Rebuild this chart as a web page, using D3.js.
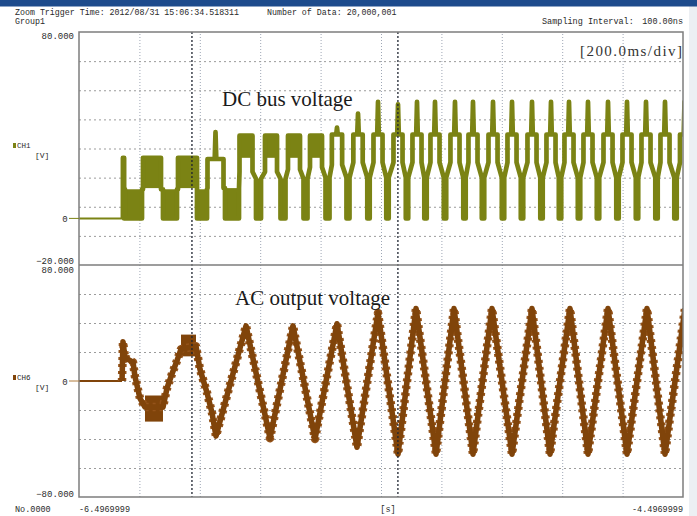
<!DOCTYPE html>
<html>
<head>
<meta charset="utf-8">
<script src="https://cdn.jsdelivr.net/npm/d3@7"></script>
<style>
  body { margin: 0; background: #fff; }
  svg { display: block; }
</style>
</head>
<body>
<svg id="chart" width="697" height="516"></svg>
<script>
// ---- time base: ms elapsed from the left edge (-6.4969999 s), 200 ms/div ----
const timeDomain = [0, 2000];
const timeDivs = [200, 400, 600, 800, 1000, 1200, 1400, 1600, 1800];
const timeStartLabel = "-6.4969999";
const timeEndLabel = "-4.4969999";
const cursorTimes = [374, 1056];

// ---- vertical ranges ----
const ch1Range = [-20, 80];
const ch6Range = [-80, 80];
const ch1Divs = [-7.5, 5, 17.5, 30, 42.5, 55, 67.5];
const ch6Divs = [-60, -40, -20, 0, 20, 40, 60];

// ---- CH1 : DC bus voltage ----
// flat level before the inverter starts
const dcIdleEnd = 145.4;
const dcIdleLevel = 0;
// upper lobes (ms centre, half width ms, plateau V, spike V, knee V, filled-down-to V)
const dcLobeT =    [147.4, 241.7, 359.3, 452.0, 553.0, 635.8, 711.9, 784.8, 854.3, 923.9, 990.1, 1056.3, 1119.2, 1178.8, 1245.0, 1304.6, 1370.9, 1433.8, 1500.0, 1562.9, 1622.5, 1685.4, 1751.7, 1814.6, 1877.5, 1940.4, 2005.0];
const dcLobeHalf = [2.0, 29.8, 31.5, 26.5, 21.5, 19.9, 19.9, 19.9, 17.0, 15.5, 15.0, 15.0, 15.0, 15.0, 15.0, 15.0, 15.0, 15.0, 15.0, 15.0, 15.0, 15.0, 15.0, 15.0, 15.0, 15.0, 15.0];
const dcLobeTop =  [26, 26, 26, 25.5, 35.5, 35.5, 35.5, 35.5, 36, 36, 36, 36, 36, 36, 36, 36, 36, 36, 36, 36, 36, 36, 36, 36, 36, 36, 36];
const dcLobeSpike = [null, null, null, 37, null, null, null, null, 39, 45, 50, 49, 50, 50, 50, 50, 50, 50, 50, 50, 50, 50, 50, 50, 50, 50, 50];
const dcLobeKnee = [0, 12.5, 12.5, 13, 20, 20, 21, 22, 23, 24, 24, 24, 24, 24, 24, 24, 24, 24, 24, 24, 24, 24, 24, 24, 24, 24, 24];
const dcLobeFill = [null, 13, 13, null, 26, 26, 26, 26, null, null, null, null, null, null, null, null, null, null, null, null, null, null, null, null, null, null, null];
// lower dips between lobes (ms centre, half width ms, floor V, shoulder V, filled)
const dcDipT =    [180.5, 301.3, 407.3, 506.6, 594.4, 675.5, 750.0, 822.9, 890.7, 958.6, 1021.5, 1086.1, 1147.4, 1211.9, 1276.5, 1337.8, 1404.0, 1466.9, 1531.5, 1592.8, 1655.7, 1718.6, 1783.1, 1847.7, 1912.3, 1975.2];
const dcDipHalf = [28.1, 23.2, 16.6, 23.2, 8.3, 8.3, 6.6, 6.6, 5.0, 4.0, 4.0, 4.0, 4.0, 4.0, 4.0, 4.0, 4.0, 4.0, 4.0, 4.0, 4.0, 4.0, 4.0, 4.0, 4.0, 4.0];
const dcDipLow =  [0, 0, 0, 0, 0, 0, 0, 0, 0, 0, 0, 0, 0, 0, 0, 0, 0, 0, 0, 0, 0, 0, 0, 0, 0, 0];
const dcDipTop =  [12.5, 12.5, 12.5, 13, 17, 17, 17, 17.5, 17.5, 17.5, 17.5, 17.5, 17.5, 17.5, 17.5, 17.5, 17.5, 17.5, 17.5, 17.5, 17.5, 17.5, 17.5, 17.5, 17.5, 17.5];
const dcDipFill = [true, true, true, true, true, true, true, true, false, false, false, false, false, false, false, false, false, false, false, false, false, false, false, false, false, false];

// ---- CH6 : AC output voltage ----
const acT = [0, 142.4, 145.7, 152.3, 178.8, 185.4, 202.0, 218.5, 278.1, 291.4, 308.0, 324.5, 337.8, 387.4, 400.7, 423.8, 440.4, 453.6,
             553.0, 632.5, 708.6, 781.5, 854.3, 920.5, 990.1, 1056.3, 1115.9, 1182.1, 1241.7, 1304.6, 1367.5, 1433.8, 1500.0,
             1559.6, 1625.8, 1685.4, 1751.7, 1814.6, 1880.8, 1940.4, 2006.6];
const acV = [0, 0, 27, 16, 13, 3, -12, -18, -18, -5, 5, 14, 22, 24, 8, -8, -22, -38,
             38, -39.5, 38, -40, 39.5, -45.7, 47, -50.5, 50, -50.5, 50, -50.5, 50, -50.5, 50,
             -50.5, 50, -50.5, 50, -50.5, 50, -50.5, 50];
// switching-noise bands around the first slow half cycles
const acBandStart = [218.5, 337.8];
const acBandEnd = [278.1, 387.4];
const acBandLow = [-28, 17];
const acBandHigh = [-10, 32];

// ---- layout ----
const plot = { left: 79, right: 683, top: 32, mid: 265, bottom: 497 };
const dcColor = "#7b8314";
const acColor = "#80440a";
const acEdge = "#94531a";
const spikeHalf = 2.6;   // ms

const svg = d3.select("#chart");
const x = d3.scaleLinear().domain(timeDomain).range([plot.left, plot.right]);
const y1 = d3.scaleLinear().domain(ch1Range).range([plot.mid, plot.top]);
const y6 = d3.scaleLinear().domain(ch6Range).range([plot.bottom, plot.mid]);

// page furniture
svg.append("rect").attr("x", 0).attr("y", 0).attr("width", 697).attr("height", 516).attr("fill", "#fff");
svg.append("rect").attr("x", 689).attr("y", 0).attr("width", 8).attr("height", 516).attr("fill", "#eceff3");
svg.append("rect").attr("x", 0).attr("y", 0).attr("width", 697).attr("height", 6.5).attr("fill", "#1d4b8c");

// clip regions for the two channels
const defs = svg.append("defs");
defs.append("clipPath").attr("id", "clip1").append("rect")
  .attr("x", plot.left).attr("y", plot.top).attr("width", plot.right - plot.left).attr("height", plot.mid - plot.top);
defs.append("clipPath").attr("id", "clip6").append("rect")
  .attr("x", plot.left).attr("y", plot.mid).attr("width", plot.right - plot.left).attr("height", plot.bottom - plot.mid);

// grid: vertical divisions through an axis with full-height ticks
const gx = svg.append("g").attr("transform", `translate(0,${plot.bottom})`)
  .call(d3.axisBottom(x).tickValues(timeDivs).tickSize(-(plot.bottom - plot.top)).tickFormat(""));
gx.select(".domain").remove();
gx.selectAll(".tick line").attr("stroke", "#9ea7b6").attr("stroke-width", 1).attr("stroke-dasharray", "1,2");

function hGrid(scale, values) {
  const g = svg.append("g").attr("transform", `translate(${plot.left},0)`)
    .call(d3.axisLeft(scale).tickValues(values).tickSize(-(plot.right - plot.left)).tickFormat(""));
  g.select(".domain").remove();
  g.selectAll(".tick line").attr("stroke", "#9b9b9b").attr("stroke-width", 1).attr("stroke-dasharray", "2,3");
}
hGrid(y1, ch1Divs);
hGrid(y6, ch6Divs);

// ---- CH1 trace ----
const g1 = svg.append("g").attr("clip-path", "url(#clip1)");
const dcPts = [];
function addLobe(i) {
  const c = dcLobeT[i], h = dcLobeHalf[i], top = dcLobeTop[i], k = dcLobeKnee[i], s = dcLobeSpike[i];
  dcPts.push([c - h, k], [c - h, top]);
  if (s !== null) dcPts.push([c - spikeHalf, top], [c, s], [c + spikeHalf, top]);
  dcPts.push([c + h, top], [c + h, k]);
}
function addDip(j) {
  const d = dcDipT[j], g = dcDipHalf[j];
  dcPts.push([d - g, dcDipTop[j]], [d - g, dcDipLow[j]], [d + g, dcDipLow[j]], [d + g, dcDipTop[j]]);
}
addLobe(0);
dcDipT.forEach((_, j) => { addDip(j); addLobe(j + 1); });

// filled switching blocks
dcLobeT.forEach((c, i) => {
  if (dcLobeFill[i] === null) return;
  g1.append("rect")
    .attr("x", x(c - dcLobeHalf[i])).attr("width", x(c + dcLobeHalf[i]) - x(c - dcLobeHalf[i]))
    .attr("y", y1(dcLobeTop[i])).attr("height", y1(dcLobeFill[i]) - y1(dcLobeTop[i]))
    .attr("fill", dcColor);
});
dcDipT.forEach((d, j) => {
  if (!dcDipFill[j]) return;
  g1.append("rect")
    .attr("x", x(d - dcDipHalf[j])).attr("width", x(d + dcDipHalf[j]) - x(d - dcDipHalf[j]))
    .attr("y", y1(dcDipTop[j])).attr("height", y1(dcDipLow[j]) - y1(dcDipTop[j]))
    .attr("fill", dcColor);
});

const line1 = d3.line().x(d => x(d[0])).y(d => y1(d[1]));
g1.append("path").datum([[0, dcIdleLevel], [dcIdleEnd, dcIdleLevel]])
  .attr("d", line1).attr("fill", "none").attr("stroke", dcColor).attr("stroke-width", 2);
g1.append("path").datum(dcPts)
  .attr("d", line1).attr("fill", "none").attr("stroke", dcColor)
  .attr("stroke-width", 4.7).attr("stroke-linejoin", "round");

// ---- CH6 trace ----
const g6 = svg.append("g").attr("clip-path", "url(#clip6)");
acBandStart.forEach((t0, i) => {
  g6.append("rect")
    .attr("x", x(t0)).attr("width", x(acBandEnd[i]) - x(t0))
    .attr("y", y6(acBandHigh[i])).attr("height", y6(acBandLow[i]) - y6(acBandHigh[i]))
    .attr("fill", acColor);
});
const acPts = acT.map((t, i) => [t, acV[i]]);
const line6 = d3.line().x(d => x(d[0])).y(d => y6(d[1]));
g6.append("path").datum(acPts.slice(0, 2))
  .attr("d", line6).attr("fill", "none").attr("stroke", acColor).attr("stroke-width", 2);
// ragged outer layer gives the PWM step texture along the trace
g6.append("path").datum(acPts.slice(1))
  .attr("d", line6).attr("fill", "none").attr("stroke", acEdge)
  .attr("stroke-width", 8.5).attr("stroke-dasharray", "3,4").attr("stroke-linejoin", "round");
g6.append("path").datum(acPts.slice(1))
  .attr("d", line6).attr("fill", "none").attr("stroke", acColor)
  .attr("stroke-width", 5.6).attr("stroke-linejoin", "round");

// cursors
svg.selectAll("line.cursor").data(cursorTimes).enter().append("line")
  .attr("class", "cursor")
  .attr("x1", d => x(d)).attr("x2", d => x(d))
  .attr("y1", plot.top).attr("y2", plot.bottom)
  .attr("stroke", "#1e2430").attr("stroke-width", 1.3).attr("stroke-dasharray", "2,2");

// frame
svg.append("rect").attr("x", plot.left).attr("y", plot.top)
  .attr("width", plot.right - plot.left).attr("height", plot.bottom - plot.top)
  .attr("fill", "none").attr("stroke", "#7d7d7d").attr("stroke-width", 1.5);
svg.append("line").attr("x1", plot.left).attr("x2", plot.right).attr("y1", plot.mid).attr("y2", plot.mid)
  .attr("stroke", "#7d7d7d").attr("stroke-width", 1.5);

// zero markers
svg.append("line").attr("x1", 69).attr("x2", plot.left).attr("y1", y1(0)).attr("y2", y1(0))
  .attr("stroke", dcColor).attr("stroke-width", 1);
svg.append("line").attr("x1", 69).attr("x2", plot.left).attr("y1", y6(0)).attr("y2", y6(0))
  .attr("stroke", "#b07a3a").attr("stroke-width", 1);

// ---- text ----
const mono = "'Liberation Mono', 'DejaVu Sans Mono', monospace";
function txt(s, px, py, opts = {}) {
  return svg.append("text").attr("x", px).attr("y", py).text(s)
    .attr("font-family", opts.family || mono)
    .attr("font-size", opts.size || 8.5)
    .attr("fill", opts.fill || "#2a2a2a")
    .attr("text-anchor", opts.anchor || "start");
}
txt("Zoom Trigger Time: 2012/08/31 15:06:34.518311", 15, 14.5, { size: 8.3 });
txt("Number of Data: 20,000,001", 267, 14.5, { size: 8.3 });
txt("Group1", 15, 24, { size: 8.3 });
txt("Sampling Interval:", 542, 23.5);
txt("100.00ns", 683, 23.5, { anchor: "end" });
txt("[200.0ms/div]", 682, 56, { family: "'Liberation Serif', serif", size: 15, anchor: "end", fill: "#333" })
  .attr("textLength", 102).attr("lengthAdjust", "spacing");

// vertical range labels
txt(d3.format(".3f")(ch1Range[1]), 74, plot.top + 7, { anchor: "end", size: 9 });
txt(d3.format(".3f")(ch1Range[0]), 74, plot.mid - 1.5, { anchor: "end", size: 9 });
txt(d3.format(".3f")(ch6Range[1]), 74, plot.mid + 7.5, { anchor: "end", size: 9 });
txt(d3.format(".3f")(ch6Range[0]), 74, plot.bottom, { anchor: "end", size: 9 });
txt("0", 65, y1(0) + 3.5, { anchor: "middle", size: 9 });
txt("0", 65, y6(0) + 3.5, { anchor: "middle", size: 9 });

// channel tags
svg.append("rect").attr("x", 13).attr("y", 143).attr("width", 3).attr("height", 5).attr("fill", dcColor);
txt("CH1", 17, 148, { size: 7.5 });
txt("[V]", 35, 157.5, { size: 8 });
svg.append("rect").attr("x", 13).attr("y", 375).attr("width", 3).attr("height", 5).attr("fill", acColor);
txt("CH6", 17, 380, { size: 7.5 });
txt("[V]", 35, 390, { size: 8 });

// time labels
txt("No.0000", 15, 511.5);
txt(timeStartLabel, plot.left, 511.5);
txt("[s]", 388, 511.5, { anchor: "middle" });
txt(timeEndLabel, plot.right, 511.5, { anchor: "end" });

// trace titles
const serif = "'Liberation Serif', 'Times New Roman', serif";
txt("DC bus voltage", 222, 106, { family: serif, size: 21, fill: "#1a1a1a" });
txt("AC output voltage", 235, 305, { family: serif, size: 21, fill: "#1a1a1a" });
</script>
</body>
</html>
